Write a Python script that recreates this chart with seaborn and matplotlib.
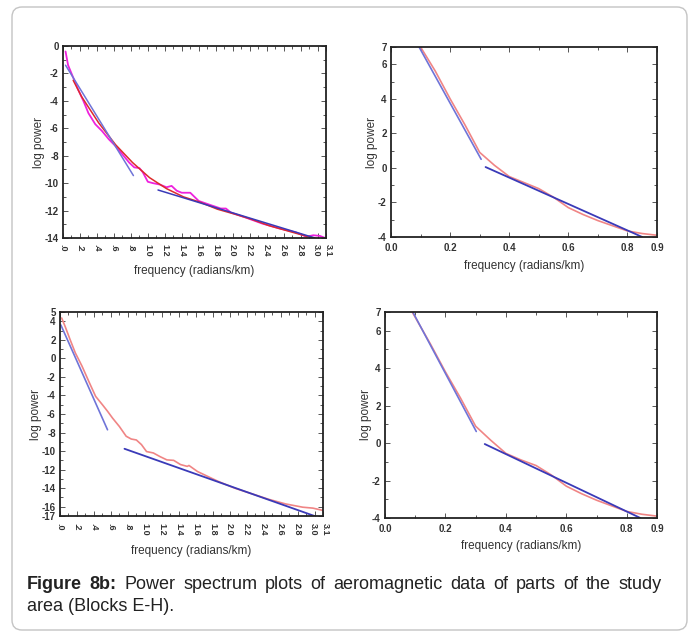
import numpy as np
import pandas as pd
import matplotlib
matplotlib.use("Agg")
import matplotlib.pyplot as plt
import matplotlib.transforms as mtransforms
import seaborn as sns
from matplotlib.patches import FancyBboxPatch
from matplotlib.ticker import MultipleLocator, FixedLocator

# ---------------- data ----------------
# Block E (top-left)
e_data_x = [0.03, 0.06, 0.12, 0.18, 0.24, 0.30, 0.38, 0.46, 0.54, 0.62, 0.70, 0.78, 0.84, 0.90,
            0.94, 1.00, 1.06, 1.14, 1.22, 1.28, 1.34, 1.40, 1.50, 1.60, 1.74, 1.86, 1.92, 1.98,
            2.15, 2.35, 2.55, 2.75, 2.87, 2.95, 3.03, 3.09]
e_data_y = [-0.4, -1.4, -2.3, -3.2, -4.0, -4.9, -5.7, -6.2, -6.8, -7.3, -7.9, -8.5, -8.85, -8.9,
            -9.2, -9.9, -10.0, -10.1, -10.3, -10.2, -10.55, -10.7, -10.7, -11.3, -11.6, -11.85, -11.85,
            -12.15, -12.5, -12.95, -13.3, -13.6, -13.9, -13.8, -13.85, -14.0]
e_fit_x = [0.12, 0.22, 0.42, 0.62, 0.82, 1.02, 1.22, 1.42, 1.62, 1.82, 2.02, 2.23, 2.43, 2.63, 2.83, 2.95]
e_fit_y = [-2.5, -3.7, -5.6, -7.2, -8.5, -9.6, -10.4, -11.0, -11.4, -11.9, -12.25, -12.65, -13.1, -13.45, -13.8, -14.0]
e_line1_x = [0.03, 0.83]
e_line1_y = [-1.4, -9.45]
e_line2_x = [1.12, 2.97]
e_line2_y = [-10.5, -14.0]

# Block F (top-right)
f_data_x = [0.10, 0.15, 0.20, 0.25, 0.30, 0.35, 0.40, 0.45, 0.50, 0.55, 0.60, 0.65, 0.70, 0.75, 0.80, 0.85, 0.90]
f_data_y = [7.0, 5.6, 4.0, 2.5, 0.9, 0.15, -0.5, -0.85, -1.2, -1.7, -2.3, -2.7, -3.05, -3.35, -3.65, -3.8, -3.9]
f_line1_x = [0.095, 0.305]
f_line1_y = [7.0, 0.5]
f_line2_x = [0.32, 0.85]
f_line2_y = [0.05, -4.0]

# Block G (bottom-left)
g_data_x = [0.02, 0.06, 0.12, 0.18, 0.26, 0.34, 0.42, 0.50, 0.56, 0.62, 0.70, 0.78, 0.84, 0.90, 0.96,
            1.02, 1.10, 1.18, 1.26, 1.34, 1.42, 1.50, 1.52, 1.62, 1.86, 2.06, 2.26, 2.46, 2.66, 2.86,
            2.98, 3.10]
g_data_y = [4.35, 3.45, 2.0, 0.6, -0.85, -2.5, -4.1, -5.0, -5.7, -6.45, -7.35, -8.4, -8.7, -8.8, -9.3,
            -10.05, -10.2, -10.6, -10.95, -11.0, -11.45, -11.65, -11.55, -12.2, -13.25, -14.0, -14.6,
            -15.2, -15.7, -16.05, -16.15, -16.4]
g_line1_x = [0.01, 0.56]
g_line1_y = [3.6, -7.7]
g_line2_x = [0.76, 3.0]
g_line2_y = [-9.75, -17.0]

# Block H (bottom-right)
h_data_x = [0.09, 0.15, 0.20, 0.25, 0.30, 0.35, 0.40, 0.45, 0.50, 0.55, 0.60, 0.65, 0.70, 0.75, 0.80, 0.85, 0.90]
h_data_y = [7.0, 5.3, 3.8, 2.4, 0.9, 0.15, -0.55, -0.9, -1.2, -1.7, -2.3, -2.7, -3.05, -3.35, -3.65, -3.8, -3.9]
h_line1_x = [0.092, 0.302]
h_line1_y = [7.0, 0.62]
h_line2_x = [0.33, 0.845]
h_line2_y = [-0.05, -4.0]

wide_ticks = [0.0, 0.2, 0.4, 0.6, 0.8, 1.0, 1.2, 1.4, 1.6, 1.8, 2.0, 2.2, 2.4, 2.6, 2.8, 3.0, 3.1]
wide_labels = [".0", ".2", ".4", ".6", ".8", "1.0", "1.2", "1.4", "1.6", "1.8", "2.0", "2.2",
               "2.4", "2.6", "2.8", "3.0", "3.1"]
narrow_ticks = [0.0, 0.2, 0.4, 0.6, 0.8, 0.9]
narrow_labels = ["0.0", "0.2", "0.4", "0.6", "0.8", "0.9"]
e_yticks = [0, -2, -4, -6, -8, -10, -12, -14]
g_yticks = [5, 4, 2, 0, -2, -4, -6, -8, -10, -12, -14, -16, -17]
fh_yticks = [7, 6, 4, 2, 0, -2, -4]

caption_bold = "Figure 8b:"
caption_line1 = "Power spectrum plots of aeromagnetic data of parts of the study"
caption_line2 = "area (Blocks E-H)."
xlabel = "frequency (radians/km)"
ylabel = "log power"

# ---------------- styling ----------------
sns.set_style("ticks")
plt.rcParams['font.family'] = ['Liberation Sans', 'DejaVu Sans']

W, H = 689, 635
fig = plt.figure(figsize=(W / 100, H / 100), dpi=100)
fig.patch.set_facecolor("white")

MAG = "#ee22dd"
RED_DARK = "#dd2b2b"
RED_LIGHT = "#f08585"
BLUE = "#3a3ab8"
BLUE_LIGHT = "#6f74d8"
TXT = "#333333"


def ax_at(l, r, t, b):
    return fig.add_axes([l / W, 1 - b / H, (r - l) / W, (b - t) / H])


def style(ax, xlim, ylim, xt, xl, yt, rot, minor_x, minor_y, xpad, xlpad):
    ax.set_xlim(*xlim)
    ax.set_ylim(*ylim)
    ax.xaxis.set_major_locator(FixedLocator(xt))
    fsx = 6.5 if rot else 7
    ax.set_xticklabels(xl, rotation=rot, fontsize=fsx, fontweight="bold", color=TXT)
    ax.yaxis.set_major_locator(FixedLocator(yt))
    ax.set_yticklabels([str(v) for v in yt], fontsize=7, fontweight="bold", color=TXT)
    ax.xaxis.set_minor_locator(MultipleLocator(minor_x))
    ax.yaxis.set_minor_locator(MultipleLocator(minor_y))
    ax.tick_params(which="both", direction="in", top=True, right=True, color="#555555", width=0.7)
    ax.tick_params(which="major", length=3.5)
    ax.tick_params(axis="x", which="major", pad=xpad)
    ax.tick_params(axis="y", which="major", pad=3)
    ax.tick_params(which="minor", length=2)
    for s in ax.spines.values():
        s.set_linewidth(1.3)
        s.set_color("#222222")
    ax.set_xlabel(xlabel, fontsize=8.5, color=TXT, labelpad=xlpad)
    ax.set_ylabel(ylabel, fontsize=8.5, color=TXT, labelpad=0)
    ax.set_facecolor("white")
    if rot:
        labs = ax.get_xticklabels()
        shifts = {len(labs) - 1: 2.5, len(labs) - 2: -1.5}
        for i, lab in enumerate(labs):
            dx = shifts.get(i, 0)
            if dx:
                lab.set_transform(lab.get_transform() +
                                  mtransforms.ScaledTranslation(dx / 100, 0, fig.dpi_scale_trans))


def line(ax, x, y, color, lw=1.2):
    sns.lineplot(x=x, y=y, ax=ax, color=color, linewidth=lw, sort=False, estimator=None)


# Panel E
ax1 = ax_at(63, 326, 46, 238)
line(ax1, e_data_x, e_data_y, MAG, 1.3)
line(ax1, e_fit_x, e_fit_y, RED_DARK, 1.1)
line(ax1, e_line1_x, e_line1_y, BLUE_LIGHT, 1.1)
line(ax1, e_line2_x, e_line2_y, BLUE, 1.1)
style(ax1, (0, 3.1), (-14, 0), wide_ticks, wide_labels, e_yticks, -90, 0.1, 1, 4, 6)

# Panel F
ax2 = ax_at(391, 657, 47, 237)
line(ax2, f_data_x, f_data_y, RED_LIGHT, 1.2)
line(ax2, f_line1_x, f_line1_y, BLUE_LIGHT, 1.2)
line(ax2, f_line2_x, f_line2_y, BLUE, 1.3)
style(ax2, (0, 0.9), (-4, 7), narrow_ticks, narrow_labels, fh_yticks, 0, 0.1, 1, 4, 5)

# Panel G
ax3 = ax_at(60, 323, 312, 516)
line(ax3, g_data_x, g_data_y, RED_LIGHT, 1.2)
line(ax3, g_line1_x, g_line1_y, BLUE_LIGHT, 1.2)
line(ax3, g_line2_x, g_line2_y, BLUE, 1.3)
style(ax3, (0, 3.1), (-17, 5), wide_ticks, wide_labels, g_yticks, -90, 0.1, 1, 5, 7)

# Panel H
ax4 = ax_at(385, 657, 312, 518)
line(ax4, h_data_x, h_data_y, RED_LIGHT, 1.2)
line(ax4, h_line1_x, h_line1_y, BLUE_LIGHT, 1.2)
line(ax4, h_line2_x, h_line2_y, BLUE, 1.3)
style(ax4, (0, 0.9), (-4, 7), narrow_ticks, narrow_labels, fh_yticks, 0, 0.1, 1, 4, 5)

# Border
border = FancyBboxPatch((12, 5), 675, 623, boxstyle="round,pad=0,rounding_size=10",
                        transform=None, fill=False, edgecolor="#c4c4c4", linewidth=1.0)
fig.add_artist(border)

# Caption with justified first line
fig.canvas.draw()
renderer = fig.canvas.get_renderer()
fs = 13
x0, x1 = 27, 662
y1 = H - 589
y2 = H - 611
words = [(w, "bold") for w in caption_bold.split()] + [(w, "normal") for w in caption_line1.split()]
texts = []
for w, wt in words:
    t = fig.text(0, y1 / H, w, fontsize=fs, fontweight=wt, color="#222222", va="baseline")
    texts.append(t)
widths = [t.get_window_extent(renderer).width for t in texts]
gap = (x1 - x0 - sum(widths)) / (len(words) - 1)
x = x0
for t, wd in zip(texts, widths):
    t.set_x(x / W)
    x += wd + gap
fig.text(x0 / W, y2 / H, caption_line2, fontsize=fs, color="#222222", va="baseline")

fig.savefig("out.png", dpi=100)
